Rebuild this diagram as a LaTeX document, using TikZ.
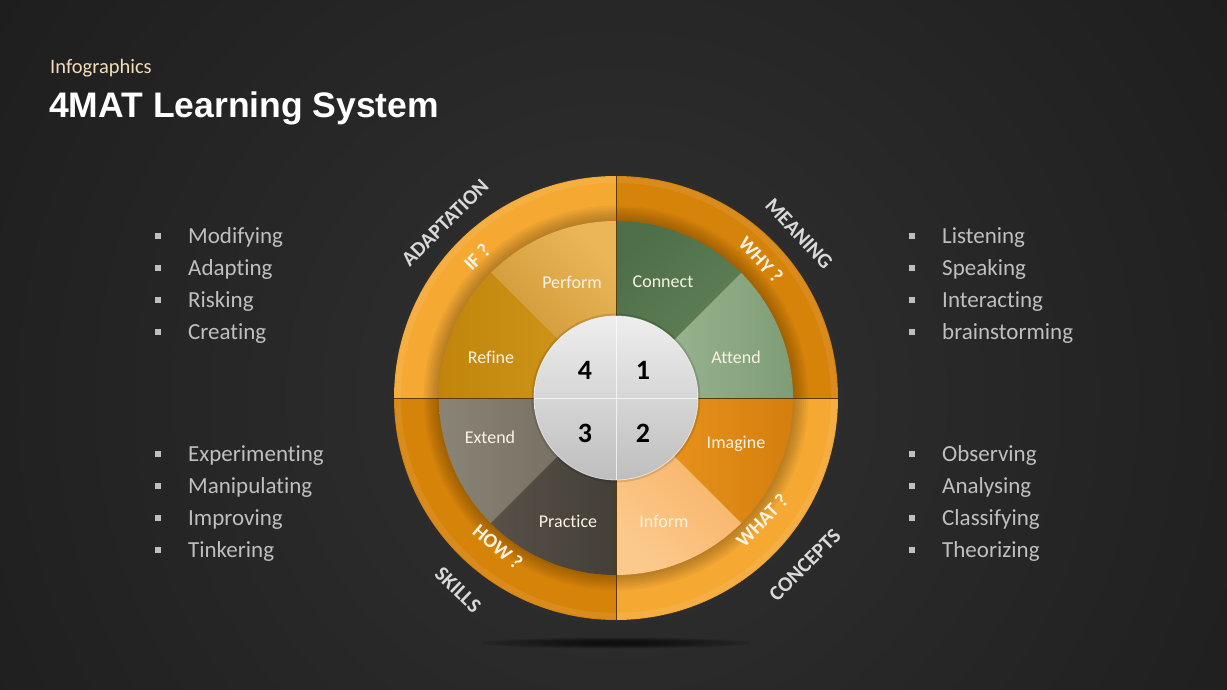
\documentclass[tikz,border=0pt]{standalone}
\usepackage{fontspec}
\setmainfont{Carlito}[Ligatures=NoCommon]
\newfontfamily\titlefont{Liberation Sans}
\usetikzlibrary{calc}
\definecolor{bgA}{HTML}{323232}
\definecolor{bgB}{HTML}{282828}
\definecolor{bgC}{HTML}{1C1C1C}
\definecolor{bgD}{HTML}{0B0B0B}
\definecolor{ringLight}{HTML}{F5A832}
\definecolor{ringDark}{HTML}{D6830A}
\definecolor{perfA}{HTML}{C99130}
\definecolor{perfB}{HTML}{EAB658}
\definecolor{refA}{HTML}{C0850A}
\definecolor{refB}{HTML}{D49A20}
\definecolor{conA}{HTML}{4F6F48}
\definecolor{conB}{HTML}{62845A}
\definecolor{attA}{HTML}{A2BE9A}
\definecolor{attB}{HTML}{7E9C76}
\definecolor{imgA}{HTML}{F09A22}
\definecolor{imgB}{HTML}{D47E0E}
\definecolor{infA}{HTML}{FCC98C}
\definecolor{infB}{HTML}{F6AE5E}
\definecolor{extA}{HTML}{8A8476}
\definecolor{extB}{HTML}{6E685C}
\definecolor{praA}{HTML}{57514A}
\definecolor{praB}{HTML}{433E36}
\definecolor{discA}{HTML}{EEEEEE}
\definecolor{discB}{HTML}{BEBEBE}
\definecolor{segtext}{HTML}{FBF3E4}
\definecolor{outtext}{HTML}{D9D9D9}
\definecolor{bullettext}{HTML}{BFBFBF}
\definecolor{subtitle}{HTML}{F3DDBA}
\definecolor{divider}{HTML}{5A3A08}
\pgfdeclareradialshading{bgshade}{\pgfpoint{0bp}{0bp}}{color(0bp)=(bgA); color(6bp)=(bgB); color(14bp)=(bgC); color(25bp)=(bgD); color(50bp)=(bgD)}
\tikzset{
  seglabel/.style={text=segtext, font=\fontsize{18}{20}\selectfont, inner sep=0pt},
  numlabel/.style={text=black, font=\fontsize{28}{30}\selectfont\bfseries, inner sep=0pt},
  outlabel/.style={text=outtext, font=\fontsize{21}{24}\selectfont\bfseries, inner sep=0pt},
  inlabel/.style={text=segtext, font=\fontsize{20}{24}\selectfont\bfseries, inner sep=0pt},
  item/.style={text=bullettext, font=\fontsize{23}{26}\selectfont, anchor=base west, inner sep=0pt},
  bulletbox/.style={fill=bullettext, minimum size=6.5pt, inner sep=0pt},
}
\begin{document}
\begin{tikzpicture}[x=1pt,y=1pt]
\useasboundingbox (0,0) rectangle (1227,-690);
% background
\begin{scope}
\clip (0,0) rectangle (1227,-690);
\shade[shading=bgshade] (616,-398) circle (1450);
\end{scope}
\coordinate (c) at (616,-398);
% shadow under circle
\foreach \i in {1,...,8}{
  \fill[black, opacity=0.10] (616,-643) ellipse ({150-15*\i} and {6-0.5*\i});
}
% outer ring quadrants
\fill[ringDark]  (c) -- ++(0:222) arc (0:90:222) -- cycle;
\fill[ringLight] (c) -- ++(90:222) arc (90:180:222) -- cycle;
\fill[ringDark]  (c) -- ++(180:222) arc (180:270:222) -- cycle;
\fill[ringLight] (c) -- ++(270:222) arc (270:360:222) -- cycle;
% subtle highlight on outer rim
\draw[white, opacity=0.08, line width=6pt] (c) circle (218);
% shadow around inner disc
\foreach \k in {0,...,7}{
  \fill[black, opacity=0.035] (c) circle ({177+2.2*\k});
}
% inner segments
\shade[left color=perfA, right color=perfB, shading angle=135] (c) -- ++(90:177) arc (90:135:177) -- cycle;
\shade[left color=refA, right color=refB, shading angle=90] (c) -- ++(135:177) arc (135:180:177) -- cycle;
\shade[left color=conA, right color=conB, shading angle=45] (c) -- ++(45:177) arc (45:90:177) -- cycle;
\shade[left color=attA, right color=attB, shading angle=90] (c) -- ++(0:177) arc (0:45:177) -- cycle;
\shade[left color=imgA, right color=imgB, shading angle=90] (c) -- ++(-45:177) arc (-45:0:177) -- cycle;
\shade[left color=infA, right color=infB, shading angle=135] (c) -- ++(-90:177) arc (-90:-45:177) -- cycle;
\shade[left color=extA, right color=extB, shading angle=90] (c) -- ++(180:177) arc (180:225:177) -- cycle;
\shade[left color=praA, right color=praB, shading angle=90] (c) -- ++(225:177) arc (225:270:177) -- cycle;
% dividers
\draw[divider, line width=1pt] (616,-176) -- (616,-620);
\draw[divider, line width=1pt] (394,-398) -- (838,-398);
% inner disc
\fill[black, opacity=0.12] (c) circle (84.5);
\shade[top color=discA, bottom color=discB] (c) circle (82);
\draw[white, opacity=0.6, line width=0.8pt] (c) circle (82);
\draw[white, opacity=0.7, line width=0.8pt] (616,-316) -- (616,-480);
\draw[white, opacity=0.7, line width=0.8pt] (534,-398) -- (698,-398);
% numbers
\node[numlabel] (n4) at (585,-370) {4};
\node[numlabel] (n1) at (643,-370) {1};
\node[numlabel] (n3) at (585,-433) {3};
\node[numlabel] (n2) at (643,-433) {2};
% segment labels
\node[seglabel] (perform) at (572,-282) {Perform};
\node[seglabel] (connect) at (663,-282) {Connect};
\node[seglabel] (refine) at (491,-357) {Refine};
\node[seglabel] (attend) at (736,-357) {Attend};
\node[seglabel] (extend) at (490,-437) {Extend};
\node[seglabel] (imagine) at (736,-444) {Imagine};
\node[seglabel] (practice) at (568,-521) {Practice};
\node[seglabel] (inform) at (664,-521) {Inform};
% ring labels
\node[inlabel, rotate=45] (ifq) at (477,-257) {IF ?};
\node[outlabel, rotate=45] (adaptation) at (445,-223) {ADAPTATION};
\node[inlabel, rotate=-47] (whyq) at (761,-260) {WHY ?};
\node[outlabel, rotate=-47] (meaning) at (799,-234) {MEANING};
\node[inlabel, rotate=-40] (howq) at (498,-547) {HOW ?};
\node[outlabel, rotate=-44] (skills) at (458,-590) {SKILLS};
\node[inlabel, rotate=46] (whatq) at (762,-520) {WHAT ?};
\node[outlabel, rotate=45] (concepts) at (805,-565) {CONCEPTS};
% title
\node[anchor=base west, inner sep=0pt, text=subtitle, font=\fontsize{20.5}{22}\selectfont] (sub) at (50,-74) {Infographics};
\node[anchor=base west, inner sep=0pt, text=white, font=\titlefont\bfseries\fontsize{35.5}{38}\selectfont] (title) at (49,-118) {4MAT Learning System};
% left lists
\foreach \t [count=\i] in {Modifying,Adapting,Risking,Creating}{
  \node[bulletbox] (lb\i) at (158,{-236-32*(\i-1)}) {};
  \node[item] (lt\i) at (188,{-243-32*(\i-1)}) {\t};
}
\foreach \t [count=\i] in {Experimenting,Manipulating,Improving,Tinkering}{
  \node[bulletbox] (lc\i) at (158,{-454-32*(\i-1)}) {};
  \node[item] (lu\i) at (188,{-461-32*(\i-1)}) {\t};
}
% right lists
\foreach \t [count=\i] in {Listening,Speaking,Interacting,brainstorming}{
  \node[bulletbox] (rb\i) at (912,{-236-32*(\i-1)}) {};
  \node[item] (rt\i) at (942,{-243-32*(\i-1)}) {\t};
}
\foreach \t [count=\i] in {Observing,Analysing,Classifying,Theorizing}{
  \node[bulletbox] (rc\i) at (912,{-454-32*(\i-1)}) {};
  \node[item] (ru\i) at (942,{-461-32*(\i-1)}) {\t};
}
\end{tikzpicture}
\end{document}
